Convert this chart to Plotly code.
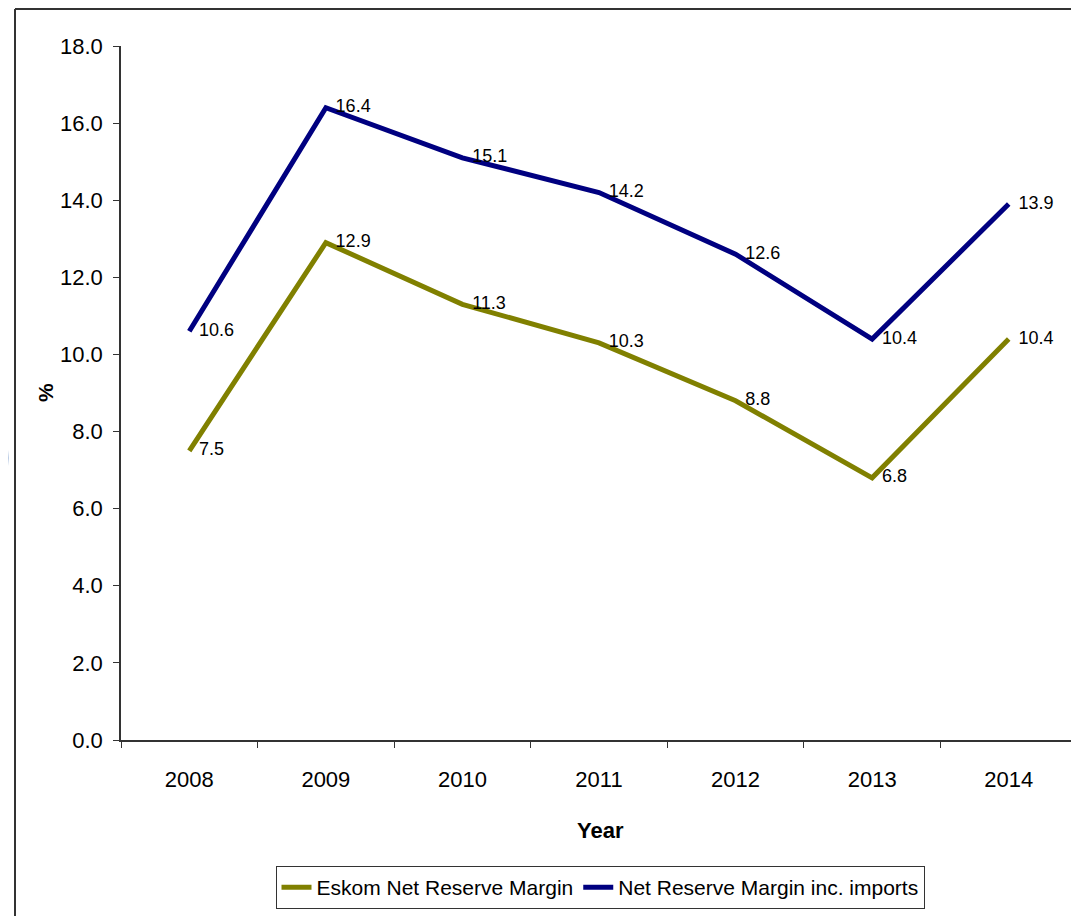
import plotly.graph_objects as go

years = ["2008", "2009", "2010", "2011", "2012", "2013", "2014"]
eskom_margin = [7.5, 12.9, 11.3, 10.3, 8.8, 6.8, 10.4]
imports_margin = [10.6, 16.4, 15.1, 14.2, 12.6, 10.4, 13.9]
series_names = ["Eskom Net Reserve Margin", "Net Reserve Margin inc. imports"]
y_ticks = [0, 2, 4, 6, 8, 10, 12, 14, 16, 18]

OFF = 8  # page body margin
W, H = 1079 - OFF, 916 - OFF
L, R, T, B = 121 - OFF, 1077 - OFF, 46 - OFF, 740 - OFF
FONT = "Liberation Sans, Arial, sans-serif"


def px(x):
    # page pixel -> paper x
    return (x - OFF - L) / (R - L)


def py(y):
    # page pixel -> paper y
    return (B - (y - OFF)) / (B - T)


fig = go.Figure()
for vals, name, color in [(eskom_margin, series_names[0], "#808000"),
                          (imports_margin, series_names[1], "#000080")]:
    fig.add_trace(go.Scatter(
        x=years, y=vals, name=name, mode="lines+markers+text",
        line=dict(color=color, width=5),
        marker=dict(size=14, color="rgba(0,0,0,0)", line=dict(width=0)),
        text=[f"{v:.1f}" for v in vals],
        textposition="middle right",
        textfont=dict(family=FONT, size=18, color="black"),
        cliponaxis=False,
    ))

shapes = [
    dict(type="line", xref="paper", yref="paper", x0=px(15), x1=px(15), y0=py(9), y1=py(930),
         line=dict(color="#333333", width=2)),
    dict(type="line", xref="paper", yref="paper", x0=px(15), x1=px(1100), y0=py(9), y1=py(9),
         line=dict(color="#333333", width=2)),
    dict(type="path", xref="paper", yref="paper",
         path=f"M {px(0)},{py(385)} L {px(9)},{py(458)} L {px(0)},{py(532)} Z",
         fillcolor="#B9CBE4", line=dict(width=0)),
]

annotations = [
    dict(text="<b>Year</b>", xref="paper", yref="paper", x=px(600), y=py(830),
         showarrow=False, font=dict(family=FONT, size=22, color="black"),
         xanchor="center", yanchor="middle"),
    dict(text="<b>%</b>", xref="paper", yref="paper", x=px(45), y=py(393),
         showarrow=False, font=dict(family=FONT, size=21, color="black"),
         textangle=-90, xanchor="center", yanchor="middle"),
]

fig.update_layout(
    width=W, height=H,
    margin=dict(l=L, r=W - R, t=T, b=H - B, pad=0),
    paper_bgcolor="white", plot_bgcolor="white",
    font=dict(family=FONT, color="black"),
    showlegend=True,
    legend=dict(orientation="h", x=px(600), xanchor="center", y=py(866), yanchor="top",
                bordercolor="#333333", borderwidth=1, bgcolor="white",
                font=dict(family=FONT, size=21, color="black"),
                itemwidth=30, tracegroupgap=0, traceorder="normal"),
    shapes=shapes, annotations=annotations,
)
fig.update_xaxes(
    type="category", range=[-0.5, 6.5], showgrid=False, showline=True,
    linecolor="#333333", linewidth=1.5, ticks="outside", tickson="boundaries",
    ticklen=6, tickcolor="#333333", tickfont=dict(family=FONT, size=22, color="black"),
    ticklabelstandoff=19, zeroline=False,
)
fig.update_yaxes(
    range=[0, 18], tickvals=y_ticks, tickformat=".1f", showgrid=False, showline=True,
    linecolor="#333333", linewidth=1.5, ticks="outside", ticklen=6, tickcolor="#333333",
    tickfont=dict(family=FONT, size=22, color="black"), ticklabelstandoff=6,
    zeroline=False,
)

fig.write_html("out.html")
